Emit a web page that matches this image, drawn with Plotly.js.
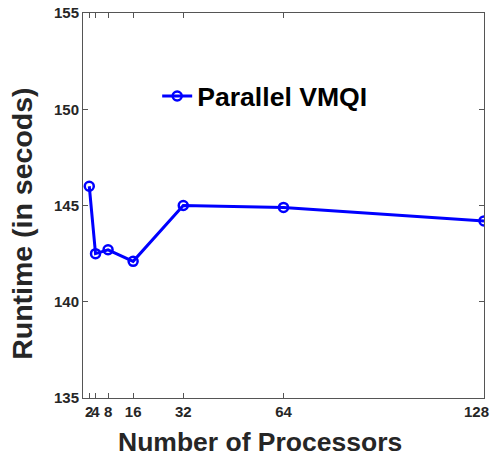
<!DOCTYPE html>
<html><head><meta charset="utf-8">
<script src="https://cdn.plot.ly/plotly-3.0.1.min.js"></script>
<style>html,body{margin:0;padding:0;background:#fff}</style>
</head><body><div id="chart" style="width:493px;height:458px"></div>
<script>
const processors = [2, 4, 8, 16, 32, 64, 128];
const runtime = [146.0, 142.5, 142.7, 142.1, 145.0, 144.9, 144.2];
const xTicks = [2, 4, 8, 16, 32, 64, 128];
const yTicks = [135, 140, 145, 150, 155];
const seriesName = 'Parallel VMQI';
const xTitle = 'Number of Processors';
const yTitle = 'Runtime (in secods)';

const font = 'Liberation Sans, Arial, Helvetica, sans-serif';
const lastTick = xTicks[xTicks.length - 1];
Plotly.newPlot('chart', [{
  x: processors, y: runtime, type: 'scatter', mode: 'lines+markers', name: seriesName,
  line: {color: '#0000ff', width: 3},
  marker: {symbol: 'circle-open', size: 9, color: '#0000ff', line: {width: 2.5, color: '#0000ff'}}
}], {
  width: 493, height: 458,
  margin: {l: 83, r: 9, t: 13, b: 60},
  paper_bgcolor: '#fff', plot_bgcolor: '#fff',
  showlegend: true,
  legend: {x: 0.185, y: 0.784, xanchor: 'left', yanchor: 'middle', bgcolor: 'rgba(0,0,0,0)', itemwidth: 30,
    font: {family: font, size: 26.6, color: '#000', weight: 'bold'}},
  xaxis: {range: [0, 128], tickvals: xTicks, ticktext: xTicks.map(v => v === lastTick ? '' : String(v)), ticks: 'inside', ticklen: 5,
    tickangle: 0,
    showline: true, linecolor: '#555', linewidth: 1, mirror: 'ticks', showgrid: false, zeroline: false,
    tickcolor: '#555', tickfont: {family: font, size: 15, color: '#262626', weight: 'bold'}},
  yaxis: {range: [135, 155], tickvals: yTicks, ticks: 'inside', ticklen: 5,
    showline: true, linecolor: '#555', linewidth: 1, mirror: 'ticks', showgrid: false, zeroline: false,
    tickcolor: '#555', tickfont: {family: font, size: 15, color: '#262626', weight: 'bold'}},
  annotations: [
    {x: lastTick, xref: 'x', y: 0, yref: 'paper', yanchor: 'top', xanchor: 'right', xshift: 7, yshift: -3,
     text: String(lastTick), showarrow: false, font: {family: font, size: 15, color: '#262626', weight: 'bold'}},
    {x: 0.4425, xref: 'paper', y: -0.114, yref: 'paper', xanchor: 'center', yanchor: 'middle',
     text: xTitle, showarrow: false, font: {family: font, size: 26.5, color: '#262626', weight: 'bold'}},
    {x: -0.1525, xref: 'paper', y: 0.452, yref: 'paper', xanchor: 'center', yanchor: 'middle', textangle: -90,
     text: yTitle, showarrow: false, font: {family: font, size: 28.5, color: '#262626', weight: 'bold'}}
  ]
}, {displayModeBar: false, staticPlot: true});
</script></body></html>
